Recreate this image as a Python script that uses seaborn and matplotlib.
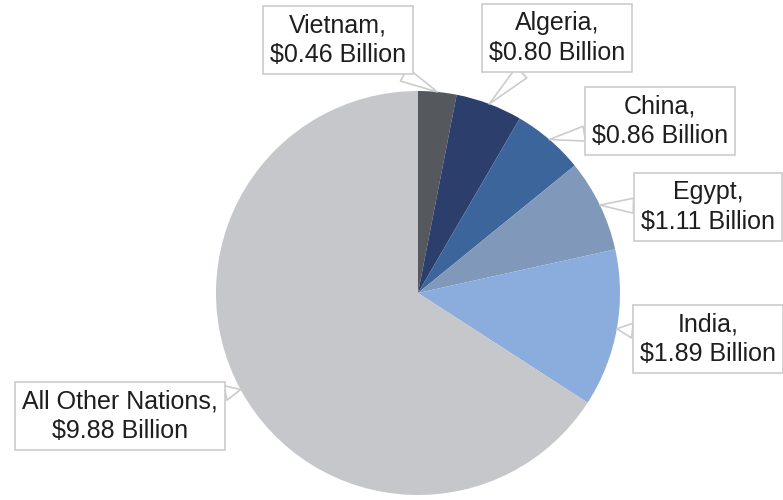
import numpy as np
import matplotlib
matplotlib.use("Agg")
import matplotlib.pyplot as plt
import seaborn as sns

# Export values by destination, in billions of US dollars
countries = ["Vietnam", "Algeria", "China", "Egypt", "India", "All Other Nations"]
values = [0.46, 0.80, 0.86, 1.11, 1.89, 9.88]
slice_colors = ["#55585d", "#2c3f6c", "#3c659b", "#8099bb", "#8badde", "#c5c7ca"]

# Label box centres (pixel coordinates, origin top-left)
label_pos = [(338, 40), (557, 38), (660, 121), (708, 207), (708, 339), (120, 416)]

sns.set_theme(style="white")
plt.rcParams["font.family"] = ["Liberation Sans", "DejaVu Sans"]

W, H = 783, 500
fig = plt.figure(figsize=(W / 100, H / 100), dpi=100)
ax = fig.add_axes([0, 0, 1, 1])

cx, cy, r = 418, H - 293, 202
palette = sns.color_palette(slice_colors)
wedges, _ = ax.pie(values, colors=palette, startangle=90, counterclock=False,
                   radius=r, center=(cx, cy),
                   wedgeprops=dict(linewidth=0))

ax.set_xlim(0, W)
ax.set_ylim(0, H)
ax.set_aspect("auto")
ax.axis("off")

for w, name, v, (tx, ty) in zip(wedges, countries, values, label_pos):
    mid = np.deg2rad((w.theta1 + w.theta2) / 2)
    px, py = cx + r * np.cos(mid), cy + r * np.sin(mid)
    ax.annotate(f"{name},\n${v:.2f} Billion",
                xy=(px, py), xytext=(tx, H - ty),
                ha="center", va="center", fontsize=18, color="#1e1e1e",
                linespacing=1.3,
                bbox=dict(boxstyle="square,pad=0.28", fc="white", ec="#cccccc", lw=1.2),
                arrowprops=dict(arrowstyle="wedge,tail_width=0.6,shrink_factor=0.5",
                                fc="white", ec="#cccccc", lw=1.2,
                                shrinkA=0, shrinkB=0))

fig.savefig("out.png", dpi=100)
